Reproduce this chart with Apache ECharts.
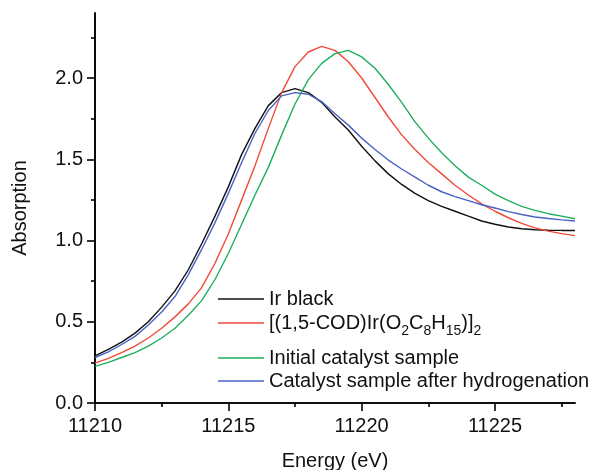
<!DOCTYPE html>
<html>
<head>
<meta charset="utf-8">
<script src="https://cdn.jsdelivr.net/npm/echarts@6/dist/echarts.min.js"></script>
<style>html,body{margin:0;padding:0;background:#fff}#c{width:598px;height:470px}</style>
</head>
<body>
<div id="c"></div>
<script>
var energy = [11210,11210.5,11211,11211.5,11212,11212.5,11213,11213.5,11214,11214.5,11215,11215.5,11216,11216.5,11217,11217.5,11218,11218.5,11219,11219.5,11220,11220.5,11221,11221.5,11222,11222.5,11223,11223.5,11224,11224.5,11225,11225.5,11226,11226.5,11227,11227.5,11228];
var irBlack = [0.29,0.33,0.375,0.43,0.50,0.59,0.69,0.82,0.98,1.15,1.33,1.53,1.69,1.83,1.91,1.935,1.91,1.85,1.76,1.68,1.58,1.49,1.41,1.345,1.29,1.245,1.21,1.18,1.15,1.12,1.10,1.083,1.072,1.066,1.063,1.062,1.062];
var codIr = [0.245,0.275,0.31,0.35,0.40,0.46,0.53,0.61,0.71,0.86,1.04,1.25,1.46,1.69,1.91,2.07,2.16,2.195,2.17,2.10,2.00,1.88,1.76,1.65,1.56,1.48,1.41,1.34,1.28,1.225,1.18,1.14,1.105,1.078,1.058,1.042,1.03];
var initialCat = [0.225,0.25,0.28,0.31,0.35,0.40,0.46,0.54,0.63,0.76,0.92,1.10,1.28,1.45,1.65,1.84,1.99,2.09,2.15,2.17,2.13,2.06,1.96,1.85,1.73,1.63,1.54,1.46,1.39,1.34,1.285,1.245,1.21,1.185,1.165,1.15,1.134];
var afterH2 = [0.28,0.315,0.36,0.41,0.48,0.56,0.655,0.79,0.945,1.11,1.29,1.48,1.66,1.80,1.89,1.91,1.90,1.855,1.78,1.71,1.63,1.56,1.495,1.44,1.39,1.34,1.30,1.27,1.245,1.22,1.20,1.178,1.16,1.145,1.135,1.127,1.12];
var seriesNames = ['Ir black','[(1,5-COD)Ir(O2C8H15)]2','Initial catalyst sample','Catalyst sample after hydrogenation'];
var xMajorTicks = [11210,11215,11220,11225];
var xMinorTicks = [11212.5,11217.5,11222.5,11227.5];
var yMajorTicks = [0,0.5,1.0,1.5,2.0];
var yMinorTicks = [0.25,0.75,1.25,1.75,2.25];

var colors = ['#111111','#f04a3a','#1fae5e','#4b62c4'];
var FONT = 'Liberation Sans, Arial, sans-serif';
var FS = 20;
var chart = echarts.init(document.getElementById('c'));
function pairs(ys){ return energy.map(function(x,i){ return [x, ys[i]]; }); }
var allData = [irBlack, codIr, initialCat, afterH2];
var axisLineStyle = {color:'#000', width:1.6};
function xAxisDef(ticks, len, labels){
  return {type:'value', min:11210, max:11228, position:'bottom',
    axisLine:{show:true, lineStyle:axisLineStyle},
    axisTick:{show:true, inside:false, length:len, customValues:ticks, lineStyle:axisLineStyle},
    axisLabel:{show:labels, customValues:ticks, margin:13, color:'#111', fontSize:FS, fontFamily:FONT,
      formatter:function(v){ return String(v); }},
    splitLine:{show:false},
    name: labels ? 'Energy (eV)' : '', nameLocation:'middle', nameGap:48,
    nameTextStyle:{color:'#111', fontSize:FS, fontFamily:FONT}};
}
function yAxisDef(ticks, len, labels){
  return {type:'value', min:0, max:2.4, position:'left',
    axisLine:{show:true, lineStyle:axisLineStyle},
    axisTick:{show:true, inside:false, length:len, customValues:ticks, lineStyle:axisLineStyle},
    axisLabel:{show:labels, customValues:ticks, margin:12, color:'#111', fontSize:FS, fontFamily:FONT,
      formatter:function(v){ return v.toFixed(1); }},
    splitLine:{show:false},
    name: labels ? 'Absorption' : '', nameLocation:'middle', nameGap:65, nameRotate:90,
    nameTextStyle:{color:'#111', fontSize:FS, fontFamily:FONT}};
}
var legendTops = [288, 312, 347, 370];
var legends = seriesNames.map(function(n,i){
  return {show:true, data:[{name:n, icon:'rect'}], left:218, top:legendTops[i] + 1, orient:'horizontal',
    itemWidth:46, itemHeight:1.5, padding:0,
    textStyle:{color:'#111', fontSize:FS, fontFamily:FONT,
      rich:{s:{fontSize:14, fontFamily:FONT, color:'#111', lineHeight:30, verticalAlign:'bottom'}}},
    formatter:function(name){
      if (name === seriesNames[1]) return '[(1,5-COD)Ir(O{s|2}C{s|8}H{s|15})]{s|2}';
      return name;
    },
    selectedMode:false};
});
chart.setOption({
  animation:false,
  backgroundColor:'#fff',
  grid:{left:95, right:23, top:13, bottom:67, outerBoundsMode:'none', containLabel:false},
  xAxis:[xAxisDef(xMajorTicks,8,true), xAxisDef(xMinorTicks,4,false)],
  yAxis:[yAxisDef(yMajorTicks,8,true), yAxisDef(yMinorTicks,4,false)],
  legend: legends,
  series: seriesNames.map(function(n,i){
    return {name:n, type:'line', xAxisIndex:0, yAxisIndex:0, data:pairs(allData[i]),
      symbol:'none', smooth:false, lineStyle:{color:colors[i], width:1.4}, itemStyle:{color:colors[i]}};
  })
});
</script>
</body>
</html>
